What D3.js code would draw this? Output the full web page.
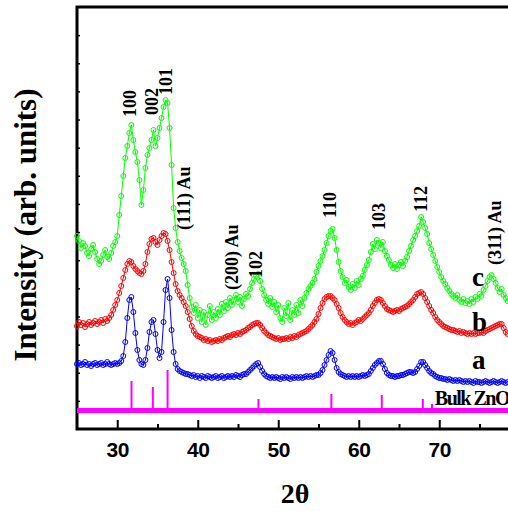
<!DOCTYPE html>
<html>
<head>
<meta charset="utf-8">
<script src="https://cdn.jsdelivr.net/npm/d3@7/dist/d3.min.js"></script>
<style>
    body { margin: 0; background: #fff; }
    svg { display: block; }
    text { font-family: "Liberation Serif", "Times New Roman", serif; font-weight: bold; fill: #000; }
    .tick-label text { font-family: "Liberation Sans", Arial, sans-serif; }
</style>
</head>
<body>
<div id="chart"></div>
<script>
// 2theta grid of the scans
const thetaStart = 25;
const thetaStep = 0.25;

// intensity (arb. units), sample a, b, c
const sampleA = [
    650, 660, 640, 650, 670, 640, 650, 630, 650, 660, 640, 650, 660, 640, 650, 670, 650, 640, 650, 660,
    650, 660, 680, 730, 870, 1110, 1290, 1320, 1170, 960, 790, 690, 650, 640, 690, 810, 970, 1070, 1090, 950,
    790, 710, 770, 1070, 1390, 1500, 1310, 990, 770, 650, 600, 580, 570, 560, 550, 550, 540, 530, 540, 520,
    530, 510, 530, 520, 510, 530, 520, 510, 520, 530, 510, 520, 530, 510, 520, 530, 520, 530, 520, 540,
    530, 520, 540, 550, 550, 570, 590, 610, 630, 650, 660, 620, 580, 550, 530, 520, 510, 520, 510, 520,
    510, 500, 520, 510, 520, 510, 500, 520, 510, 520, 510, 520, 510, 520, 530, 520, 530, 520, 530, 540,
    540, 560, 590, 640, 690, 740, 780, 760, 690, 610, 570, 550, 540, 530, 520, 530, 520, 530, 520, 530,
    520, 530, 540, 530, 540, 550, 580, 610, 640, 660, 680, 680, 650, 600, 560, 540, 530, 530, 520, 530,
    530, 540, 540, 550, 560, 570, 570, 560, 570, 600, 630, 670, 670, 640, 610, 580, 560, 550, 530, 520,
    510, 510, 500, 500, 490, 500, 490, 480, 490, 480, 490, 480, 470, 480, 470, 480, 470, 460, 480, 470,
    470, 460, 470, 480, 470, 460, 470, 480, 470, 460, 470, 480, 470, 460, 470
];
const sampleB = [
    1030, 1070, 1040, 1060, 1020, 1050, 1070, 1040, 1060, 1080, 1050, 1070, 1090, 1060, 1100, 1080, 1110, 1140, 1190, 1240,
    1290, 1360, 1430, 1510, 1590, 1650, 1680, 1670, 1630, 1600, 1580, 1560, 1550, 1580, 1650, 1770, 1850, 1900, 1910, 1870,
    1840, 1890, 1930, 1960, 1950, 1880, 1790, 1670, 1560, 1450, 1380, 1340, 1310, 1270, 1230, 1170, 1100, 1030, 980, 950,
    930, 920, 910, 890, 900, 880, 890, 870, 880, 890, 880, 900, 890, 910, 920, 930, 920, 940, 950, 940,
    960, 950, 970, 980, 990, 1010, 1020, 1040, 1050, 1060, 1060, 1040, 1010, 980, 960, 940, 930, 920, 910, 900,
    910, 890, 900, 900, 910, 900, 920, 910, 930, 920, 940, 950, 960, 970, 980, 1000, 1020, 1040, 1070, 1100,
    1150, 1210, 1260, 1300, 1320, 1330, 1330, 1310, 1290, 1250, 1210, 1160, 1120, 1090, 1070, 1050, 1060, 1040, 1060, 1070,
    1090, 1080, 1100, 1120, 1140, 1160, 1190, 1230, 1260, 1290, 1300, 1290, 1260, 1230, 1200, 1190, 1180, 1170, 1180, 1190,
    1180, 1200, 1210, 1220, 1230, 1250, 1270, 1290, 1320, 1350, 1360, 1370, 1350, 1310, 1270, 1230, 1190, 1160, 1120, 1090,
    1070, 1050, 1030, 1020, 1010, 1000, 990, 990, 980, 970, 980, 960, 970, 960, 950, 960, 950, 960, 950, 960,
    960, 970, 960, 980, 990, 1000, 1010, 1020, 1030, 1040, 1050, 1050, 1010, 970, 950
];
const sampleC = [
    1930, 1880, 1810, 1860, 1830, 1760, 1730, 1800, 1840, 1770, 1700, 1650, 1680, 1740, 1790, 1720, 1700, 1760, 1830, 1870,
    1930, 2140, 2330, 2530, 2710, 2830, 2960, 3040, 2890, 2770, 2670, 2490, 2240, 2390, 2610, 2740, 2810, 2890, 2990, 2830,
    2910, 3010, 3110, 3220, 3290, 3260, 3010, 2640, 2210, 2010, 1870, 1780, 1710, 1650, 1580, 1440, 1310, 1220, 1160, 1240,
    1110, 1190, 1070, 1170, 1040, 1140, 1230, 1090, 1170, 1110, 1200, 1140, 1250, 1180, 1270, 1210, 1310, 1240, 1290, 1340,
    1270, 1320, 1230, 1300, 1350, 1330, 1400, 1460, 1500, 1530, 1550, 1480, 1400, 1340, 1290, 1250, 1310, 1220, 1270, 1170,
    1240, 1110, 1070, 1210, 1130, 1260, 1090, 1190, 1140, 1240, 1160, 1290, 1230, 1310, 1360, 1400, 1430, 1460, 1500, 1570,
    1630, 1680, 1730, 1790, 1860, 1930, 1980, 2000, 1910, 1790, 1670, 1580, 1520, 1460, 1490, 1420, 1390, 1450, 1410, 1480,
    1440, 1500, 1530, 1590, 1640, 1690, 1770, 1850, 1800, 1890, 1860, 1810, 1870, 1780, 1730, 1690, 1640, 1610, 1650, 1600,
    1640, 1670, 1630, 1680, 1720, 1780, 1830, 1890, 1930, 1980, 2030, 2120, 2070, 2010, 1950, 1860, 1800, 1740, 1680, 1620,
    1570, 1520, 1480, 1450, 1410, 1380, 1350, 1330, 1310, 1340, 1290, 1270, 1300, 1260, 1280, 1250, 1300, 1270, 1320, 1300,
    1350, 1330, 1390, 1430, 1480, 1520, 1540, 1500, 1460, 1410, 1370, 1400, 1340, 1310, 1280
];

// bulk ZnO reference lines
const bulkTheta = [31.77, 34.42, 36.25, 47.54, 56.60, 62.86, 66.38, 67.96, 69.10, 72.56, 76.95];
const bulkTop = [480, 420, 590, 300, 350, 340, 210, 300, 250, 200, 200];
const bulkBaseline = 185;

const xTicks = [30, 40, 50, 60, 70];
const xMinorTicks = [35, 45, 55, 65, 75];
const yTickCount = 15;

// peak labels (2theta, intensity at foot of the text)
const peakLabels = [
    {text: "100", theta: 32.33, value: 3120},
    {text: "002", theta: 35.06, value: 3140},
    {text: "101", theta: 36.80, value: 3340},
    {text: "(111) Au", theta: 38.98, value: 1990},
    {text: "(200) Au", theta: 45.06, value: 1390},
    {text: "102", theta: 48.04, value: 1510},
    {text: "110", theta: 57.17, value: 2110},
    {text: "103", theta: 63.26, value: 1990},
    {text: "112", theta: 68.48, value: 2170},
    {text: "(311) Au", theta: 77.67, value: 1640}
];

const curveNames = ["a", "b", "c"];
const curveLabelTheta = 74.07;
const curveLabelValue = [600, 980, 1430];

const width = 508;
const height = 511;

const x = d3.scaleLinear().domain([25, 80]).range([77, 519.75]);
const y = d3.scaleLinear().domain([0, 4220]).range([429, 7]);

const svg = d3.select("#chart")
    .append("svg")
    .attr("width", width)
    .attr("height", height);

renderAxes(svg);
renderCurve(svg, sampleC, "#00ff00");
renderCurve(svg, sampleB, "#ff0000");
renderCurve(svg, sampleA, "#0000ff");
renderBulk(svg);
renderLabels(svg);

function renderAxes(svg){
    const xAxis = svg.append("g")
        .attr("class", "tick-label")
        .attr("transform", `translate(0, ${y(0)})`)
        .call(d3.axisBottom(x).tickValues(xTicks).tickSize(-9).tickPadding(13).tickFormat(d3.format("d")));
    xAxis.select(".domain").remove();
    xAxis.selectAll("line").attr("stroke", "#000").attr("stroke-width", 2);
    xAxis.selectAll("text").attr("font-size", 21).attr("letter-spacing", -0.5);

    const xMinor = svg.append("g")
        .attr("transform", `translate(0, ${y(0)})`)
        .call(d3.axisBottom(x).tickValues(xMinorTicks).tickSize(-5).tickFormat(""));
    xMinor.select(".domain").remove();
    xMinor.selectAll("line").attr("stroke", "#000").attr("stroke-width", 2);

    const yTicks = d3.range(1, yTickCount).map(i => i * 4220 / yTickCount);
    const yAxis = svg.append("g")
        .attr("transform", `translate(${x(25)}, 0)`)
        .call(d3.axisLeft(y).tickValues(yTicks).tickSize(-3).tickFormat(""));
    yAxis.select(".domain").remove();
    yAxis.selectAll("line").attr("stroke", "#000").attr("stroke-width", 1.5);

    // frame
    svg.append("path")
        .attr("d", `M${width + 5},${y(4220)} H${x(25)} V${y(0)} H${width + 5}`)
        .attr("fill", "none")
        .attr("stroke", "#000")
        .attr("stroke-width", 3);

    svg.append("text")
        .attr("transform", `translate(36, 225) rotate(-90)`)
        .attr("text-anchor", "middle")
        .attr("font-size", 31)
        .text("Intensity (arb. units)");

    svg.append("text")
        .attr("x", 295)
        .attr("y", 503)
        .attr("text-anchor", "middle")
        .attr("font-size", 28)
        .text("2θ");
}

function renderCurve(svg, values, color){
    const points = values.map((v, i) => ({theta: thetaStart + i * thetaStep, value: v}));

    const line = d3.line()
        .x(d => x(d.theta))
        .y(d => y(d.value));

    const g = svg.append("g");

    g.append("path")
        .datum(points)
        .attr("d", line)
        .attr("fill", "none")
        .attr("stroke", color)
        .attr("stroke-width", 1);

    g.selectAll("circle")
        .data(points)
        .enter()
        .append("circle")
        .attr("cx", d => x(d.theta))
        .attr("cy", d => y(d.value))
        .attr("r", 2.5)
        .attr("fill", "none")
        .attr("stroke", color)
        .attr("stroke-width", 1);
}

function renderBulk(svg){
    const g = svg.append("g");

    g.selectAll("line")
        .data(bulkTheta)
        .enter()
        .append("line")
        .attr("x1", d => x(d))
        .attr("x2", d => x(d))
        .attr("y1", y(bulkBaseline))
        .attr("y2", (d, i) => y(bulkTop[i]))
        .attr("stroke", "#ff00ff")
        .attr("stroke-width", 2);

    g.append("line")
        .attr("x1", x(25))
        .attr("x2", width)
        .attr("y1", y(bulkBaseline))
        .attr("y2", y(bulkBaseline))
        .attr("stroke", "#ff00ff")
        .attr("stroke-width", 5);

    svg.append("text")
        .attr("x", x(69.45))
        .attr("y", y(240))
        .attr("font-size", 20)
        .attr("letter-spacing", -1.5)
        .text("Bulk ZnO");
}

function renderLabels(svg){
    svg.selectAll(".peak-label")
        .data(peakLabels)
        .enter()
        .append("text")
        .attr("class", "peak-label")
        .attr("transform", d => `translate(${x(d.theta)}, ${y(d.value)}) rotate(-90)`)
        .attr("font-size", 18)
        .text(d => d.text);

    svg.selectAll(".curve-label")
        .data(curveNames)
        .enter()
        .append("text")
        .attr("class", "curve-label")
        .attr("x", x(curveLabelTheta))
        .attr("y", (d, i) => y(curveLabelValue[i]))
        .attr("font-size", 27)
        .text(d => d);
}
</script>
</body>
</html>
